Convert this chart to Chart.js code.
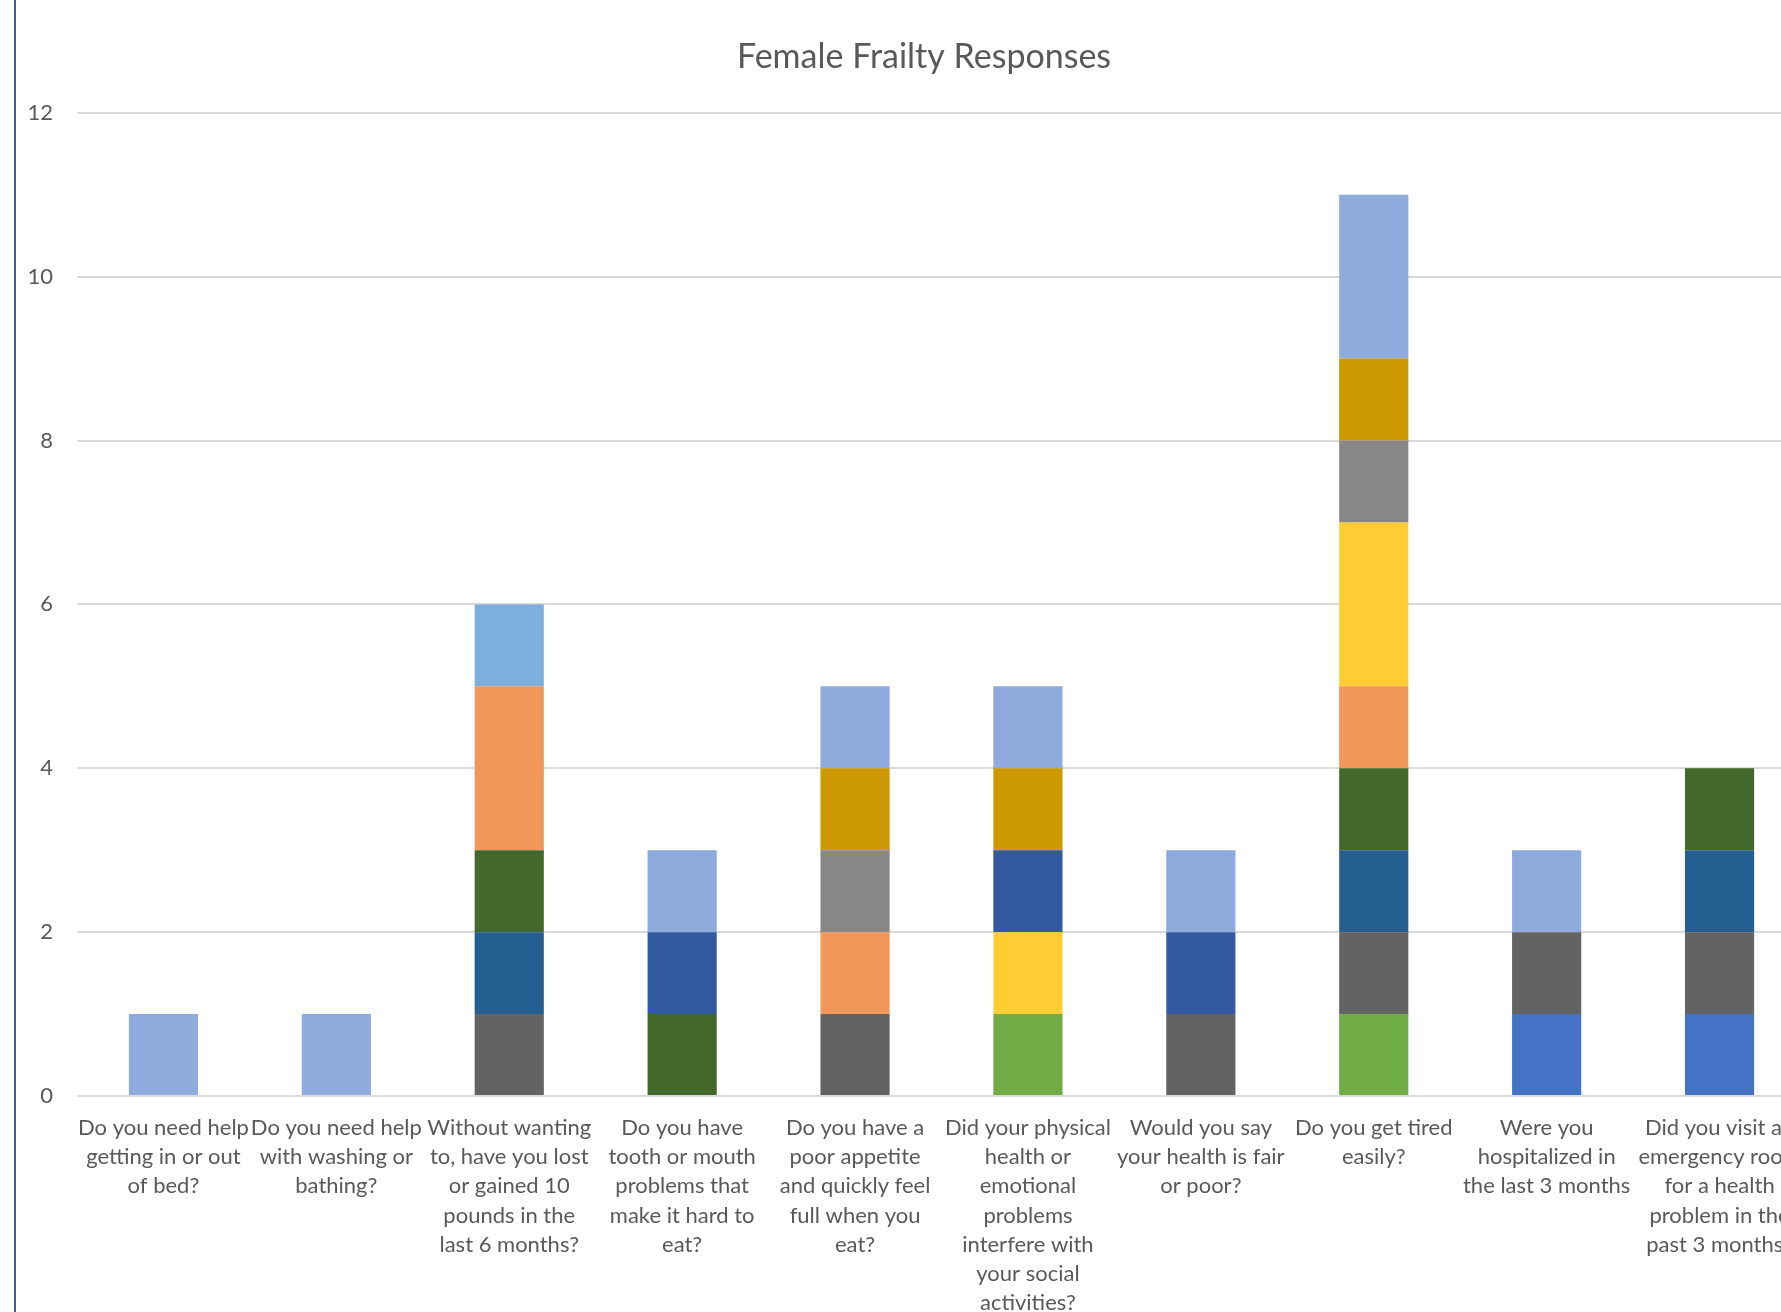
<!DOCTYPE html>
<html>
<head>
<meta charset="utf-8">
<script src="https://cdn.jsdelivr.net/npm/chart.js@4"></script>
<style>
  html, body { margin: 0; padding: 0; background: #fff; overflow: hidden; }
  #frame { position: absolute; left: 14px; top: 0; width: 2px; height: 1312px; background: #3c5ea6; }
  #wrap { position: absolute; left: 16px; top: 0; width: 1816px; height: 1340px; }
</style>
</head>
<body>
<div id="frame"></div>
<div id="wrap"><canvas id="frailtyChart"></canvas></div>
<script>
// question labels, wrapped the way the original chart wraps them
const questions = [
  ['Do you need help', 'getting in or out', 'of bed?'],
  ['Do you need help', 'with washing or', 'bathing?'],
  ['Without wanting', 'to, have you lost', 'or gained 10', 'pounds in the', 'last 6 months?'],
  ['Do you have', 'tooth or mouth', 'problems that', 'make it hard to', 'eat?'],
  ['Do you have a', 'poor appetite', 'and quickly feel', 'full when you', 'eat?'],
  ['Did your physical', 'health or', 'emotional', 'problems', 'interfere with', 'your social', 'activities?'],
  ['Would you say', 'your health is fair', 'or poor?'],
  ['Do you get tired', 'easily?'],
  ['Were you', 'hospitalized in', 'the last 3 months'],
  ['Did you visit an', 'emergency room', 'for a health', 'problem in the', 'past 3 months?'],
];

const yTicks = [0, 2, 4, 6, 8, 10, 12];

// one series per respondent, bottom of the stack first
const series1  = [0, 0, 0, 0, 0, 0, 0, 0, 1, 1];
const series6  = [0, 0, 0, 0, 0, 1, 0, 1, 0, 0];
const series9  = [0, 0, 1, 0, 1, 0, 1, 1, 1, 1];
const series11 = [0, 0, 1, 0, 0, 0, 0, 1, 0, 1];
const series12 = [0, 0, 1, 1, 0, 0, 0, 1, 0, 1];
const series14 = [0, 0, 2, 0, 1, 0, 0, 1, 0, 0];
const series16 = [0, 0, 0, 0, 0, 1, 0, 2, 0, 0];
const series17 = [0, 0, 1, 0, 0, 0, 0, 0, 0, 0];
const series19 = [0, 0, 0, 1, 0, 1, 1, 0, 0, 0];
const series21 = [0, 0, 0, 0, 1, 0, 0, 1, 0, 0];
const series22 = [0, 0, 0, 0, 1, 1, 0, 1, 0, 0];
const series25 = [1, 1, 0, 1, 1, 1, 1, 2, 1, 0];

const seriesList = [
  ['Series1',  series1,  '#4472c4'],
  ['Series6',  series6,  '#70ad47'],
  ['Series9',  series9,  '#636363'],
  ['Series11', series11, '#255e91'],
  ['Series12', series12, '#43682b'],
  ['Series14', series14, '#f1975a'],
  ['Series16', series16, '#ffcd33'],
  ['Series17', series17, '#7cafdd'],
  ['Series19', series19, '#335aa1'],
  ['Series21', series21, '#878787'],
  ['Series22', series22, '#cc9a00'],
  ['Series25', series25, '#8faadc'],
];

const labelFont = { family: 'Lato', size: 22, lineHeight: 1.33 };

new Chart(document.getElementById('frailtyChart').getContext('2d'), {
  type: 'bar',
  data: {
    labels: questions,
    datasets: seriesList.map(([label, data, color]) => ({
      label,
      data,
      backgroundColor: color,
      borderWidth: 0,
      barPercentage: 0.4,
      categoryPercentage: 1,
    })),
  },
  options: {
    responsive: true,
    maintainAspectRatio: false,
    animation: false,
    layout: { padding: 0 },
    plugins: {
      legend: { display: false },
      tooltip: { enabled: false },
      title: {
        display: true,
        text: 'Female Frailty Responses',
        color: '#595959',
        font: { family: 'Lato', size: 34, weight: 'normal', lineHeight: 1.2 },
        padding: { top: 37, bottom: 35 },
      },
    },
    scales: {
      x: {
        stacked: true,
        grid: { display: false, drawTicks: false },
        border: { display: false },
        ticks: { color: '#595959', font: labelFont, padding: 17, autoSkip: false, maxRotation: 0, minRotation: 0 },
        afterFit(scale) { scale.height = 244; },
      },
      y: {
        stacked: true,
        min: 0,
        max: 12,
        afterBuildTicks(scale) { scale.ticks = yTicks.map(v => ({ value: v })); },
        grid: { color: '#d9d9d9', lineWidth: 2, drawTicks: false },
        border: { display: false },
        ticks: { color: '#595959', font: { family: 'Lato', size: 22 }, padding: 24 },
        afterFit(scale) { scale.width = 61; },
      },
      // empty strip on the right, like the gap Excel leaves after the plot area
      // (keeps the title centred on the whole chart object)
      spacer: {
        position: 'right',
        grid: { display: false, drawTicks: false },
        border: { display: false },
        ticks: { display: false },
        afterFit(scale) { scale.width = 26; },
      },
    },
  },
});
</script>
</body>
</html>
